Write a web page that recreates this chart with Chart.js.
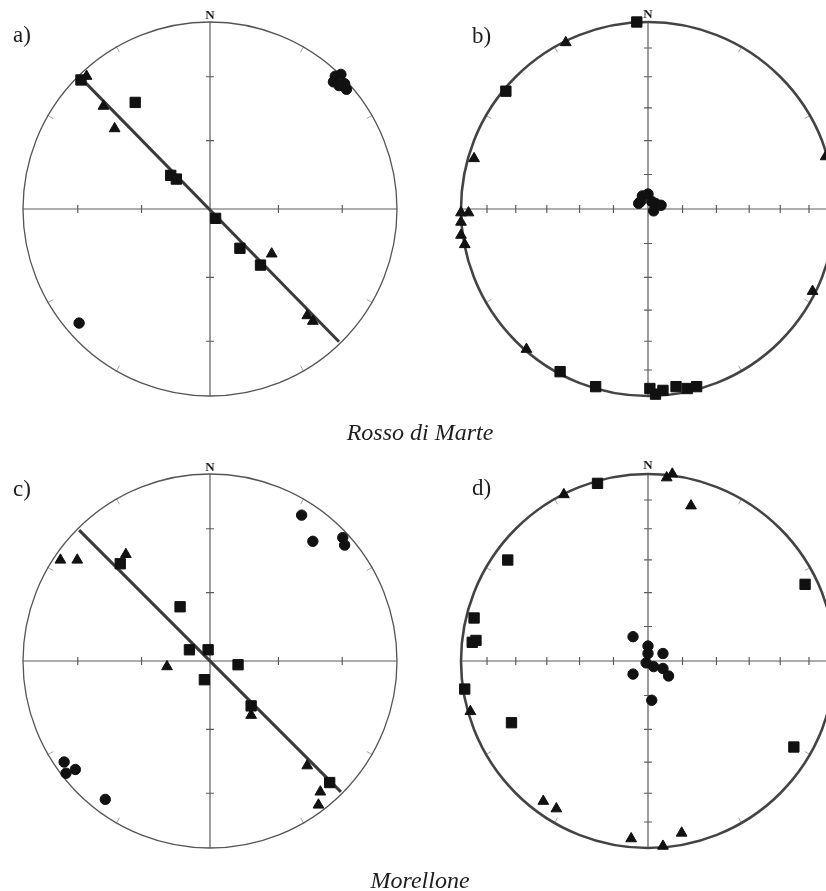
<!DOCTYPE html>
<html>
<head>
<meta charset="utf-8">
<script src="https://cdn.jsdelivr.net/npm/chart.js@4.4.1/dist/chart.umd.min.js"></script>
<style>
  html, body { margin: 0; padding: 0; background: #fff; overflow: hidden; width: 826px; height: 891px; }
  .panel { position: absolute; }
  .lbl { position: absolute; font-family: "Liberation Serif", "Times New Roman", serif; color: #1e1e1e; line-height: 1; white-space: nowrap; }
  .tag { font-size: 23px; }
  .north { font-size: 13px; font-weight: bold; transform: translateX(-50%); }
  .site { font-size: 24px; font-style: italic; transform: translateX(-50%); }
</style>
</head>
<body>
<canvas id="netA" class="panel" width="413" height="440" style="left:0;top:0"></canvas>
<canvas id="netB" class="panel" width="440" height="440" style="left:413px;top:0"></canvas>
<canvas id="netC" class="panel" width="413" height="440" style="left:0;top:452px"></canvas>
<canvas id="netD" class="panel" width="440" height="440" style="left:413px;top:452px"></canvas>

<div class="lbl tag" style="left:13px;top:23px">a)</div>
<div class="lbl tag" style="left:472px;top:24px">b)</div>
<div class="lbl tag" style="left:13px;top:477px">c)</div>
<div class="lbl tag" style="left:472px;top:476px">d)</div>
<div class="lbl north" style="left:210px;top:8px">N</div>
<div class="lbl north" style="left:648px;top:7px">N</div>
<div class="lbl north" style="left:210px;top:460px">N</div>
<div class="lbl north" style="left:648px;top:458px">N</div>
<div class="lbl site" style="left:420px;top:420px">Rosso di Marte</div>
<div class="lbl site" style="left:420px;top:868px">Morellone</div>

<script>
"use strict";

// positions on the net as [east, north], in units of the primitive circle radius

// a) Rosso di Marte
const aSquares = [[-0.69, 0.69], [-0.40, 0.57], [-0.21, 0.18], [-0.18, 0.16], [0.03, -0.05], [0.16, -0.21], [0.27, -0.30]];
const aTriangles = [[-0.66, 0.71], [-0.57, 0.55], [-0.51, 0.43], [0.33, -0.24], [0.52, -0.57], [0.55, -0.60]];
const aCircles = [[0.67, 0.71], [0.70, 0.72], [0.72, 0.67], [0.69, 0.66], [0.73, 0.64], [0.66, 0.68], [-0.70, -0.61]];
const aPlane = [[-0.69, 0.70], [0.69, -0.71]];

// b) Rosso di Marte
const bSquares = [[-0.06, 1.00], [-0.76, 0.63], [-0.47, -0.87], [-0.28, -0.95], [0.01, -0.96], [0.04, -0.99], [0.08, -0.97], [0.15, -0.95], [0.21, -0.96], [0.26, -0.95]];
const bTriangles = [[-0.44, 0.89], [-0.93, 0.27], [0.95, 0.28], [0.88, -0.44], [-1.00, -0.02], [-0.96, -0.02], [-1.00, -0.07], [-1.00, -0.14], [-0.98, -0.19], [-0.65, -0.75]];
const bCircles = [[-0.05, 0.03], [-0.03, 0.07], [0.00, 0.08], [0.02, 0.04], [0.04, 0.03], [0.03, -0.01], [0.07, 0.02], [-0.04, 0.04]];

// c) Morellone
const cSquares = [[-0.48, 0.52], [-0.16, 0.29], [-0.11, 0.06], [-0.01, 0.06], [0.15, -0.02], [-0.03, -0.10], [0.22, -0.24], [0.64, -0.65]];
const cTriangles = [[-0.80, 0.54], [-0.71, 0.54], [-0.45, 0.57], [-0.23, -0.03], [0.22, -0.29], [0.52, -0.56], [0.59, -0.70], [0.58, -0.77]];
const cCircles = [[0.49, 0.78], [0.55, 0.64], [0.71, 0.66], [0.72, 0.62], [-0.78, -0.54], [-0.77, -0.60], [-0.72, -0.58], [-0.56, -0.74]];
const cPlane = [[-0.70, 0.70], [0.70, -0.70]];

// d) Morellone
const dSquares = [[-0.27, 0.95], [-0.75, 0.54], [-0.93, 0.23], [-0.92, 0.11], [-0.94, 0.10], [-0.98, -0.15], [-0.73, -0.33], [0.84, 0.41], [0.78, -0.46]];
const dTriangles = [[-0.45, 0.89], [0.10, 0.98], [0.13, 1.00], [0.23, 0.83], [-0.95, -0.27], [-0.56, -0.75], [-0.49, -0.79], [-0.09, -0.95], [0.08, -0.99], [0.18, -0.92]];
const dCircles = [[-0.08, 0.13], [0.00, 0.08], [0.00, 0.04], [0.08, 0.04], [-0.01, -0.01], [0.03, -0.03], [0.08, -0.04], [0.11, -0.08], [-0.08, -0.07], [0.02, -0.21]];

// net graticule: plunges marked on the axes, azimuths marked on the rim
const axisPlungesCoarse = [60, 30];
const axisPlungesFine = [75, 60, 45, 30, 15];
const rimAzimuths = [30, 60, 120, 150, 210, 240, 300, 330];

// equal-area (Schmidt) radius of a given plunge
const eqArea = (p) => Math.SQRT2 * Math.sin((90 - p) / 2 * Math.PI / 180);
const pts = (arr) => arr.map(([x, y]) => ({ x, y }));

const netFrame = {
  id: "netFrame",
  beforeDatasetsDraw(chart, args, o) {
    const { ctx, scales: { x, y } } = chart;
    const cx = x.getPixelForValue(0);
    const cy = y.getPixelForValue(0);
    const r = x.getPixelForValue(1) - cx;
    ctx.save();
    ctx.strokeStyle = "#5c5c5c";
    ctx.lineWidth = 1.2;
    ctx.beginPath();
    ctx.moveTo(cx - r, cy); ctx.lineTo(cx + r, cy);
    ctx.moveTo(cx, cy - r); ctx.lineTo(cx, cy + r);
    o.plunges.forEach((p) => {
      const d = eqArea(p) * r;
      for (const s of [-1, 1]) {
        ctx.moveTo(cx + s * d, cy - 4); ctx.lineTo(cx + s * d, cy + 4);
        ctx.moveTo(cx - 4, cy + s * d); ctx.lineTo(cx + 4, cy + s * d);
      }
    });
    ctx.stroke();

    ctx.strokeStyle = "#a8a8a8";
    ctx.lineWidth = 1;
    ctx.beginPath();
    rimAzimuths.forEach((az) => {
      const t = az * Math.PI / 180;
      ctx.moveTo(cx + (r + 1) * Math.sin(t), cy - (r + 1) * Math.cos(t));
      ctx.lineTo(cx + (r - 6) * Math.sin(t), cy - (r - 6) * Math.cos(t));
    });
    ctx.stroke();

    ctx.strokeStyle = o.rimColor;
    ctx.lineWidth = o.rimWidth;
    ctx.beginPath();
    ctx.arc(cx, cy, r, 0, 2 * Math.PI);
    ctx.stroke();
    ctx.restore();
  },
};

function makeNet(id, squares, triangles, circles, plane, frame, pad) {
  const ink = "#111";
  const datasets = [
    { data: pts(squares), pointStyle: "rect", pointRadius: 7.3, backgroundColor: ink, borderColor: ink, borderWidth: 1, clip: false },
    { data: pts(triangles), pointStyle: "triangle", pointRadius: 6.2, backgroundColor: ink, borderColor: ink, borderWidth: 1, clip: false },
    { data: pts(circles), pointStyle: "circle", pointRadius: 5.2, backgroundColor: ink, borderColor: ink, borderWidth: 1, clip: false },
  ];
  if (plane) {
    datasets.push({ data: pts(plane), showLine: true, pointRadius: 0, borderColor: "#3a3a3a", borderWidth: 3, clip: false });
  }
  new Chart(id, {
    type: "scatter",
    data: { datasets },
    options: {
      responsive: false,
      maintainAspectRatio: false,
      animation: false,
      layout: { padding: pad },
      plugins: {
        legend: { display: false },
        tooltip: { enabled: false },
        netFrame: frame,
      },
      scales: {
        x: { type: "linear", min: -1, max: 1, display: false },
        y: { type: "linear", min: -1, max: 1, display: false },
      },
    },
    plugins: [netFrame],
  });
}

const padLeft = { left: 23, right: 16, top: 22, bottom: 44 };
const padRight = { left: 48, right: 18, top: 22, bottom: 44 };

makeNet("netA", aSquares, aTriangles, aCircles, aPlane, { plunges: axisPlungesCoarse, rimColor: "#555", rimWidth: 1.3 }, padLeft);
makeNet("netB", bSquares, bTriangles, bCircles, null, { plunges: axisPlungesFine, rimColor: "#444", rimWidth: 2.6 }, padRight);
makeNet("netC", cSquares, cTriangles, cCircles, cPlane, { plunges: axisPlungesCoarse, rimColor: "#555", rimWidth: 1.3 }, padLeft);
makeNet("netD", dSquares, dTriangles, dCircles, null, { plunges: axisPlungesFine, rimColor: "#444", rimWidth: 2.6 }, padRight);
</script>
</body>
</html>
